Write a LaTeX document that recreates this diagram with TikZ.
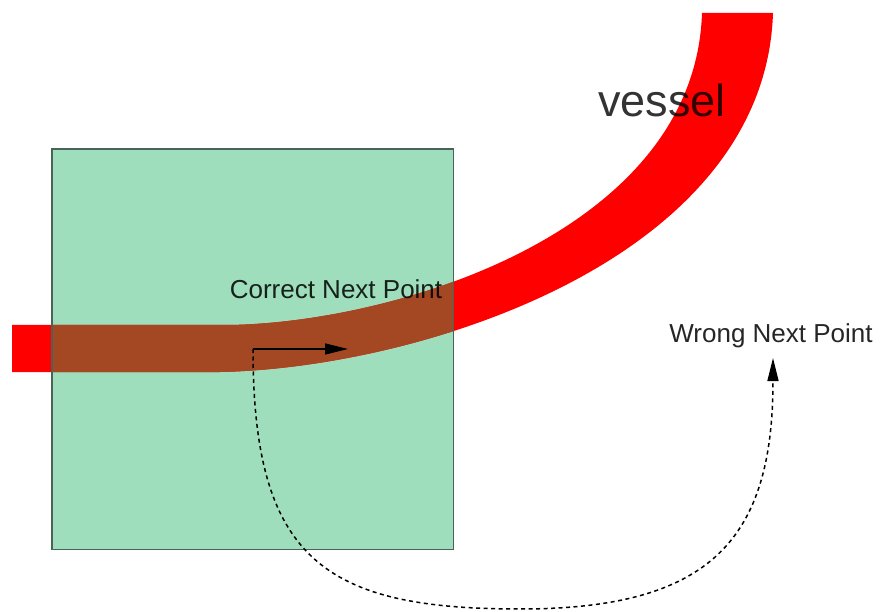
\documentclass[tikz,border=0pt]{standalone}
\usepackage{fontspec}
\setmainfont{Liberation Sans}
\usetikzlibrary{arrows.meta}
\definecolor{boxgreen}{RGB}{158,222,188}
\definecolor{boxedge}{RGB}{72,100,86}
\definecolor{vesselred}{RGB}{255,0,0}
\definecolor{overlapbrown}{RGB}{164,72,36}
\begin{document}
\begin{tikzpicture}[x=1pt,y=-1pt,
  lbl/.style={font=\fontsize{26}{30}\selectfont, text opacity=0.85, inner sep=0pt, anchor=base},
  tipstyle/.style={-{Triangle[length=23pt,width=11pt]}},
  pointer/.style={line width=1.5pt, tipstyle},
  dashpath/.style={pointer, dash pattern=on 4pt off 3.5pt}]
\useasboundingbox (0,0) rectangle (881,612);
\node[fill=boxgreen, minimum width=401pt, minimum height=400pt, inner sep=0pt, anchor=north west] (box) at (52,149) {};
% vessel
\fill[vesselred] (12,325) -- (230,325) .. controls (400,322) and (695,230) .. (702,13) -- (773,13) .. controls (765,260) and (420,368) .. (220,372) -- (12,372) -- cycle;
\begin{scope}
  \clip (box.north west) rectangle (box.south east);
  \fill[overlapbrown] (12,325) -- (230,325) .. controls (400,322) and (695,230) .. (702,13) -- (773,13) .. controls (765,260) and (420,368) .. (220,372) -- (12,372) -- cycle;
\end{scope}
\draw[boxedge, line width=1.4pt] (box.north west) rectangle (box.south east);
% labels
\node[font=\fontsize{45}{50}\selectfont, text opacity=0.8, inner sep=0pt, anchor=base] (vessel) at (662,117) {vessel};
\node[lbl] (correct) at (336,299) {Correct Next Point};
\node[lbl] (wrong) at (771,343) {Wrong Next Point};
% pointers
\coordinate (start) at (253,349);
\coordinate (correcttip) at (348,349);
\coordinate (wrongtip) at (773,358);
\draw[pointer] (start) -- (correcttip);
\draw[dashpath] (start) .. controls (253,560) and (325,609) .. (520,609) .. controls (710,609) and (773,540) .. (wrongtip);
\end{tikzpicture}
\end{document}
